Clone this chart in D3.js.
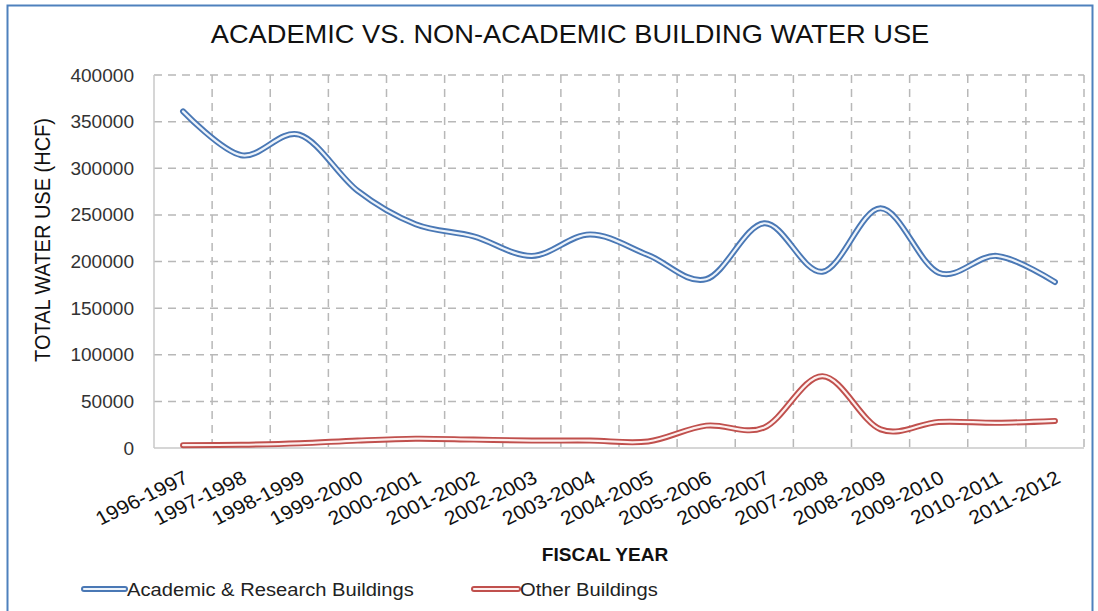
<!DOCTYPE html>
<html><head><meta charset="utf-8">
<script src="https://cdn.jsdelivr.net/npm/d3@7"></script>
<style>
body{margin:0;background:#fff;}
svg{display:block;font-family:"Liberation Sans",Arial,sans-serif;}
</style></head>
<body><svg id="c" width="1098" height="611"></svg>
<script>
const categories = ["1996-1997","1997-1998","1998-1999","1999-2000","2000-2001","2001-2002","2002-2003","2003-2004","2004-2005","2005-2006","2006-2007","2007-2008","2008-2009","2009-2010","2010-2011","2011-2012"];
const academic = [361000,314000,336000,276000,240000,227000,206000,229000,207000,181000,241000,189000,257000,188000,206000,178000];
const other = [3000,3500,5000,8000,10000,9000,8000,8000,7000,24000,22000,77000,20000,28000,27000,29000];
const yTicks = [0,50000,100000,150000,200000,250000,300000,350000,400000];
const seriesNames = ["Academic & Research Buildings","Other Buildings"];
const seriesColors = ["#4a78b5","#c0504d"];
const innerColors = ["#eef4fb","#fdf0ef"];

const SX = 1.09; // horizontal stretch of the source text
const svg = d3.select("#c");
const L=154,R=1084,T=75,B=448;
const x = d3.scaleBand().domain(categories).range([L,R]).padding(0);
const y = d3.scaleLinear().domain([0,400000]).range([B,T]);

// chart border
svg.append("path").attr("d","M7.5,611 V5.5 H1092.5 V611").attr("fill","none").attr("stroke","#4f81bd").attr("stroke-width",2);

// title
svg.append("text").attr("transform",`translate(570,43) scale(${SX},1)`).attr("text-anchor","middle")
  .attr("font-size",25).attr("fill","#111").text("ACADEMIC VS. NON-ACADEMIC BUILDING WATER USE");

// horizontal grid
svg.append("g").selectAll("line").data(yTicks.filter(d=>d>0)).join("line")
  .attr("x1",L).attr("x2",R).attr("y1",d=>y(d)).attr("y2",d=>y(d))
  .attr("stroke","#b8b8b8").attr("stroke-width",1.5).attr("stroke-dasharray","8,6");
// vertical grid at band boundaries
const bounds = categories.map(c=>x(c)+x.bandwidth());
svg.append("g").selectAll("line").data(bounds).join("line")
  .attr("x1",d=>d).attr("x2",d=>d).attr("y1",T).attr("y2",B)
  .attr("stroke","#b8b8b8").attr("stroke-width",1.5).attr("stroke-dasharray","8,6");

// axes lines
svg.append("line").attr("x1",L).attr("x2",L).attr("y1",T).attr("y2",B).attr("stroke","#c8c8c8").attr("stroke-width",1.5);
svg.append("line").attr("x1",L).attr("x2",R).attr("y1",B).attr("y2",B).attr("stroke","#c8c8c8").attr("stroke-width",1.5);

// y tick labels
svg.append("g").selectAll("text").data(yTicks).join("text")
  .attr("transform",d=>`translate(134,${y(d)+6.5}) scale(1.06,1)`).attr("text-anchor","end")
  .attr("font-size",18).attr("fill","#333").text(d=>d3.format("d")(d));

// y axis title
svg.append("text").attr("transform",`translate(50,240) scale(${SX},1) rotate(-90)`).attr("text-anchor","middle")
  .attr("font-size",20).attr("fill","#111").text("TOTAL WATER USE (HCF)");

// x labels
svg.append("g").selectAll("text").data(categories).join("text")
  .attr("transform",d=>`translate(${x(d)+x.bandwidth()/2+7},482) scale(${SX},1) rotate(-28)`)
  .attr("text-anchor","end").attr("font-size",19.5).attr("fill","#111").text(d=>d);

// x axis title
svg.append("text").attr("transform",`translate(605,561) scale(${SX},1)`).attr("text-anchor","middle")
  .attr("font-size",17.5).attr("font-weight","bold").attr("fill","#111").text("FISCAL YEAR");

// lines
const line = d3.line().x((d,i)=>x(categories[i])+x.bandwidth()/2).y(d=>y(d)).curve(d3.curveCardinal.tension(0));
[academic,other].forEach((s,k)=>{
  svg.append("path").attr("d",line(s)).attr("fill","none").attr("stroke",seriesColors[k]).attr("stroke-width",6).attr("stroke-linecap","round");
  svg.append("path").attr("d",line(s)).attr("fill","none").attr("stroke",innerColors[k]).attr("stroke-width",2.2).attr("stroke-linecap","round");
});

// legend
const lg = [{x:84,tx:127},{x:474,tx:520}];
seriesNames.forEach((n,k)=>{
  const g = svg.append("g");
  g.append("line").attr("x1",lg[k].x).attr("x2",lg[k].tx-2).attr("y1",589).attr("y2",589).attr("stroke",seriesColors[k]).attr("stroke-width",6).attr("stroke-linecap","round");
  g.append("line").attr("x1",lg[k].x).attr("x2",lg[k].tx-2).attr("y1",589).attr("y2",589).attr("stroke",innerColors[k]).attr("stroke-width",2.2).attr("stroke-linecap","round");
  g.append("text").attr("transform",`translate(${lg[k].tx},596) scale(${SX},1)`).attr("font-size",18.5).attr("fill","#222").text(n);
});
</script></body></html>
